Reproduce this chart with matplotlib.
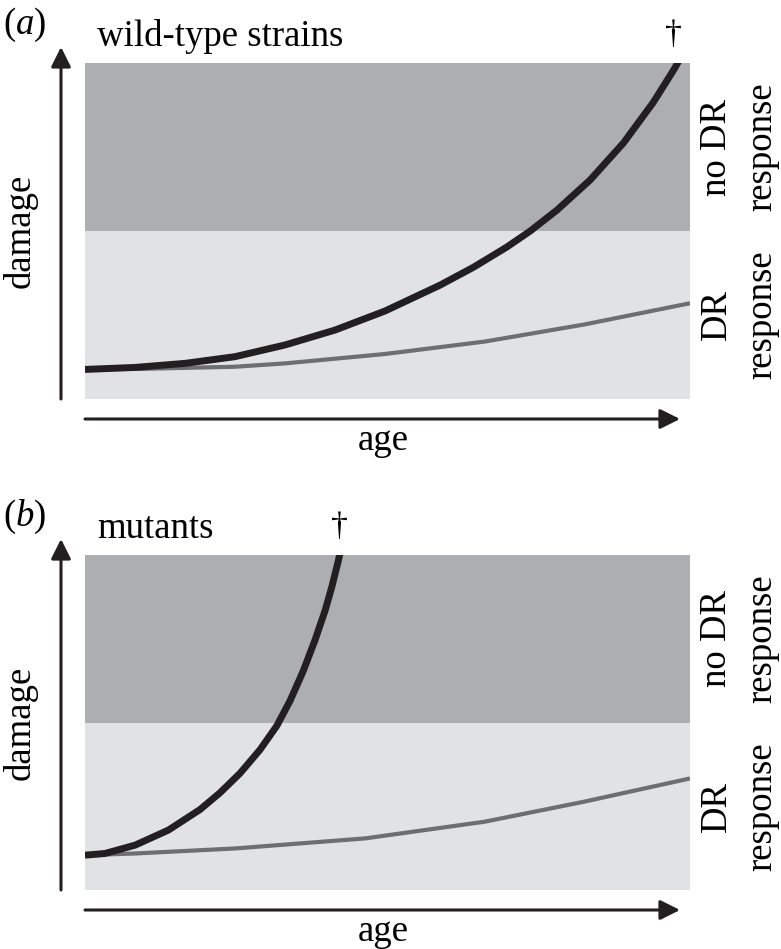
import matplotlib
matplotlib.use("Agg")
import matplotlib.pyplot as plt

# ---- data (age and damage in relative units 0..1) ----
panel_letters = ["a", "b"]
panel_titles = ["wild-type strains", "mutants"]
dr_threshold = 0.5  # damage level separating "DR response" (below) and "no DR response" (above)

# panel (a): wild-type strains
wt_no_dr_age = [0.0, 0.083, 0.165, 0.248, 0.331, 0.413, 0.496, 0.587, 0.642, 0.697,
                0.736, 0.780, 0.835, 0.890, 0.939, 0.975, 0.99]
wt_no_dr_dmg = [0.088, 0.094, 0.106, 0.126, 0.161, 0.205, 0.262, 0.339, 0.392, 0.452,
                0.500, 0.562, 0.652, 0.762, 0.882, 0.985, 1.035]
wt_dr_age = [0.0, 0.1, 0.248, 0.331, 0.496, 0.661, 0.826, 1.0]
wt_dr_dmg = [0.088, 0.090, 0.096, 0.106, 0.134, 0.171, 0.222, 0.285]

# panel (b): mutants
mu_no_dr_age = [0.0, 0.033, 0.083, 0.138, 0.190, 0.223, 0.256, 0.289, 0.317, 0.339,
                0.361, 0.380, 0.397, 0.408, 0.419, 0.425]
mu_no_dr_dmg = [0.104, 0.109, 0.134, 0.179, 0.240, 0.290, 0.348, 0.418, 0.490, 0.565,
                0.655, 0.745, 0.835, 0.905, 0.985, 1.035]
mu_dr_age = [0.0, 0.083, 0.248, 0.463, 0.661, 0.826, 1.0]
mu_dr_dmg = [0.104, 0.109, 0.124, 0.154, 0.204, 0.264, 0.333]

death_age = [0.972, 0.42]

panels = [
    (wt_no_dr_age, wt_no_dr_dmg, wt_dr_age, wt_dr_dmg),
    (mu_no_dr_age, mu_no_dr_dmg, mu_dr_age, mu_dr_dmg),
]

# ---- style ----
W, H = 781, 949
plt.rcParams['font.family'] = ['Liberation Serif', 'DejaVu Serif']
plt.rcParams['mathtext.fontset'] = 'custom'
plt.rcParams['mathtext.rm'] = 'Liberation Serif'
plt.rcParams['mathtext.it'] = 'Liberation Serif:italic'
FS = 26.5
dark = '#adaeb0'
light = '#e1e2e4'
black = '#231f20'
grey = '#6d6e70'

fig = plt.figure(figsize=(W / 100, H / 100), dpi=100)
fig.patch.set_facecolor('white')

rects = [(85, 63, 690, 399), (85, 555, 690, 890)]  # left, top, right, bottom (pixels)
arrow_style = dict(arrowstyle='-|>,head_length=0.6,head_width=0.3', mutation_scale=20,
                   lw=2.2, color=black, shrinkA=0, shrinkB=0)

for i, (rect, data) in enumerate(zip(rects, panels)):
    l, t, r, b = rect
    ax = fig.add_axes([l / W, 1 - b / H, (r - l) / W, (b - t) / H])
    ax.set_xlim(0, 1)
    ax.set_ylim(0, 1)
    ax.axis('off')
    ax.axhspan(0, dr_threshold, color=light, zorder=0, lw=0)
    ax.axhspan(dr_threshold, 1, color=dark, zorder=0, lw=0)

    nd_x, nd_y, d_x, d_y = data
    ax.plot(d_x, d_y, color=grey, lw=3.0, solid_capstyle='butt',
            solid_joinstyle='round', zorder=2)
    ax.plot(nd_x, nd_y, color=black, lw=5.0, solid_capstyle='butt',
            solid_joinstyle='round', zorder=3)

    pw, ph = (r - l), (b - t)
    # axes arrows
    yx = (61 - l) / pw
    ax.annotate('', xy=(yx, 1 + 16 / ph), xytext=(yx, 0.0),
                xycoords='axes fraction', textcoords='axes fraction',
                arrowprops=arrow_style, annotation_clip=False)
    xy_ = -20 / ph
    ax.annotate('', xy=((680 - l) / pw, xy_), xytext=(0.0, xy_),
                xycoords='axes fraction', textcoords='axes fraction',
                arrowprops=arrow_style, annotation_clip=False)

    # labels
    ax.text((383 - l) / pw, -42 / ph, 'age', transform=ax.transAxes,
            ha='center', va='center', fontsize=FS)
    ax.text((20 - l) / pw, 0.5, 'damage', transform=ax.transAxes, rotation=90,
            ha='center', va='center', fontsize=FS)
    ax.text((3 - l) / pw, 1 + 38 / ph, '($\\mathit{' + panel_letters[i] + '}$)',
            transform=ax.transAxes, ha='left', va='center', fontsize=FS)
    ax.text((97 - l) / pw, 1 + 26 / ph, panel_titles[i], transform=ax.transAxes,
            ha='left', va='center', fontsize=FS)
    ax.text(death_age[i], 1 + 28 / ph, '\u2020', transform=ax.transAxes,
            ha='center', va='center', fontsize=FS - 2)

    # right-hand region labels
    for yy, first in ((0.75, 'no DR'), (0.25, 'DR')):
        ax.text((717 - l) / pw, yy, first, transform=ax.transAxes, rotation=90,
                ha='center', va='center', fontsize=FS)
        ax.text((762 - l) / pw, yy, 'response', transform=ax.transAxes, rotation=90,
                ha='center', va='center', fontsize=FS)

fig.savefig('out.png', dpi=100, facecolor='white')
